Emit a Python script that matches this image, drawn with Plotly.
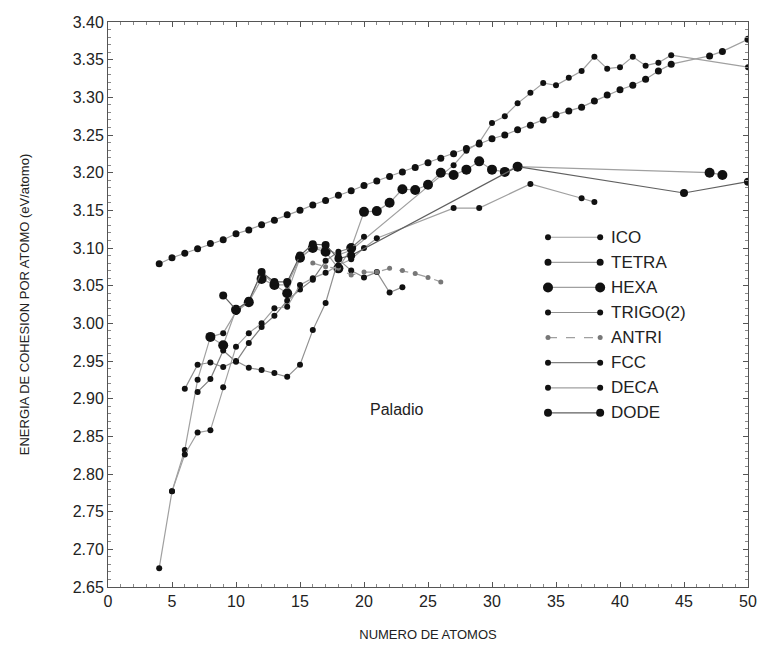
import plotly.graph_objects as go

# ---- data ----
ico_x = [5, 6, 7, 8, 9, 10, 11, 12, 13, 14, 15, 16, 17, 18, 19, 27, 28, 29, 30, 31, 32, 33, 34, 35, 36, 37, 38, 39, 40, 41, 42, 43, 44, 50]
ico_y = [2.777, 2.832, 2.925, 2.982, 2.987, 3.015, 3.028, 3.068, 3.051, 3.051, 3.087, 3.100, 3.100, 3.091, 3.097,
         3.210, 3.229, 3.240, 3.266, 3.275, 3.292, 3.306, 3.319, 3.316, 3.326, 3.335, 3.354, 3.338, 3.340, 3.354, 3.342, 3.346, 3.356, 3.340]

tetra_x = [4, 5, 6, 7, 8, 9, 10, 11, 12, 13, 14, 15, 16, 17, 18, 19, 20, 21, 22, 23, 24, 25, 26, 27, 28, 29, 30,
           31, 32, 33, 34, 35, 36, 37, 38, 39, 40, 41, 42, 43, 44, 47, 48, 50]
tetra_y = [3.079, 3.087, 3.093, 3.099, 3.106, 3.111, 3.119, 3.124, 3.131, 3.137, 3.144, 3.150, 3.157, 3.163, 3.170,
           3.176, 3.183, 3.189, 3.195, 3.201, 3.207, 3.213, 3.219, 3.225, 3.232, 3.238, 3.245, 3.250, 3.257, 3.263,
           3.270, 3.277, 3.282, 3.287, 3.295, 3.303, 3.310, 3.316, 3.324, 3.335, 3.344, 3.355, 3.361, 3.377]

hexa_x = [8, 9, 10, 11, 12, 13, 14, 15, 16, 17, 18, 19, 20, 21, 22, 23, 24, 25, 26, 27, 28, 29, 30, 31, 32, 47, 48]
hexa_y = [2.982, 2.971, 3.018, 3.028, 3.059, 3.051, 3.040, 3.087, 3.100, 3.095, 3.073, 3.100, 3.148, 3.149, 3.160,
          3.178, 3.177, 3.184, 3.200, 3.197, 3.204, 3.215, 3.204, 3.201, 3.208, 3.200, 3.197]

trigo_x = [6, 7, 8, 9, 10, 11, 12, 13, 14, 15, 16, 17, 18, 19, 20, 21, 22, 23]
trigo_y = [2.913, 2.945, 2.948, 2.942, 2.950, 2.941, 2.938, 2.934, 2.929, 2.945, 2.991, 3.027, 3.085, 3.070, 3.061,
           3.068, 3.041, 3.048]

antri_x = [16, 17, 18, 19, 20, 21, 22, 23, 24, 25, 26]
antri_y = [3.080, 3.075, 3.073, 3.064, 3.068, 3.068, 3.073, 3.070, 3.066, 3.061, 3.055]

fcc_x = [7, 8, 9, 10, 11, 12, 13, 14, 15, 16, 17, 18, 19, 20]
fcc_y = [2.909, 2.926, 2.964, 2.949, 2.974, 2.995, 3.010, 3.030, 3.045, 3.058, 3.083, 3.095, 3.100, 3.115]

deca_x = [4, 5, 6, 7, 8, 9, 10, 11, 12, 13, 14, 15, 16, 17, 18, 19, 20, 21, 27, 29, 33, 37, 38]
deca_y = [2.675, 2.777, 2.826, 2.855, 2.858, 2.915, 2.969, 2.987, 3.000, 3.020, 3.022, 3.051, 3.060, 3.067, 3.077,
          3.085, 3.100, 3.113, 3.153, 3.153, 3.185, 3.166, 3.161]

dode_x = [9, 10, 11, 12, 13, 14, 15, 16, 17, 18, 19, 32, 45, 50]
dode_y = [3.037, 3.018, 3.030, 3.068, 3.055, 3.055, 3.090, 3.105, 3.104, 3.086, 3.090, 3.208, 3.173, 3.188]

series_names = ["ICO", "TETRA", "HEXA", "TRIGO(2)", "ANTRI", "FCC", "DECA", "DODE"]
x_ticks = [0, 5, 10, 15, 20, 25, 30, 35, 40, 45, 50]
y_ticks = [2.65, 2.70, 2.75, 2.80, 2.85, 2.90, 2.95, 3.00, 3.05, 3.10, 3.15, 3.20, 3.25, 3.30, 3.35, 3.40]

FONT = "Liberation Sans, Arial, Helvetica, sans-serif"

styles = {
    "ICO":      dict(msize=6, mcolor="#111", lcolor="#a0a0a0", dash="solid"),
    "TETRA":    dict(msize=7, mcolor="#111", lcolor="#a0a0a0", dash="solid"),
    "HEXA":     dict(msize=10, mcolor="#111", lcolor="#a0a0a0", dash="solid"),
    "TRIGO(2)": dict(msize=6, mcolor="#111", lcolor="#909090", dash="solid"),
    "ANTRI":    dict(msize=5, mcolor="#777", lcolor="#a0a0a0", dash="dash"),
    "FCC":      dict(msize=6, mcolor="#111", lcolor="#808080", dash="solid"),
    "DECA":     dict(msize=6, mcolor="#111", lcolor="#a0a0a0", dash="solid"),
    "DODE":     dict(msize=8, mcolor="#111", lcolor="#606060", dash="solid"),
}

data = {
    "ICO": (ico_x, ico_y), "TETRA": (tetra_x, tetra_y), "HEXA": (hexa_x, hexa_y),
    "TRIGO(2)": (trigo_x, trigo_y), "ANTRI": (antri_x, antri_y), "FCC": (fcc_x, fcc_y),
    "DECA": (deca_x, deca_y), "DODE": (dode_x, dode_y),
}

fig = go.Figure()
for name in series_names:
    xs, ys = data[name]
    s = styles[name]
    fig.add_trace(go.Scatter(
        x=xs, y=ys, name=name, mode="lines+markers",
        line=dict(color=s["lcolor"], width=1.2, dash=s["dash"]),
        marker=dict(size=s["msize"], color=s["mcolor"]),
        showlegend=False,
    ))

# hand-made legend (marker - line - marker, label), in paper coordinates
shapes = []
annotations = []
lx0, lx1, ltext = 0.6875, 0.769, 0.783
ly0, ldy = 0.619, 0.0444
for i, name in enumerate(series_names):
    s = styles[name]
    yy = ly0 - i * ldy
    shapes.append(dict(type="line", xref="paper", yref="paper", x0=lx0, x1=lx1, y0=yy, y1=yy,
                       line=dict(color=s["lcolor"], width=1.2, dash=s["dash"])))
    r = s["msize"] / 2.0
    for cx in (lx0, lx1):
        shapes.append(dict(type="circle", xref="paper", yref="paper", xsizemode="pixel", ysizemode="pixel",
                           xanchor=cx, yanchor=yy, x0=-r, x1=r, y0=-r, y1=r,
                           fillcolor=s["mcolor"], line=dict(width=0)))
    annotations.append(dict(xref="paper", yref="paper", x=ltext, y=yy, text=name, showarrow=False,
                            xanchor="left", yanchor="middle", font=dict(family=FONT, size=17, color="#222")))

annotations.append(dict(x=22.5, y=2.885, text="Paladio", showarrow=False,
                        font=dict(family=FONT, size=16, color="#222")))

fig.update_layout(
    width=761, height=646,
    margin=dict(l=108, r=13, t=22, b=59),
    paper_bgcolor="white", plot_bgcolor="white",
    shapes=shapes, annotations=annotations,
    font=dict(family=FONT, color="#222"),
    xaxis=dict(range=[0, 50], tickvals=x_ticks, ticktext=[str(v) for v in x_ticks], automargin=False,
               showgrid=False, zeroline=False, showline=True, linecolor="#555", linewidth=1,
               mirror="allticks", ticks="inside", ticklen=5, tickcolor="#555",
               minor=dict(dtick=1, ticks="inside", ticklen=3, tickcolor="#888"),
               tickfont=dict(family=FONT, size=16, color="#222"),
               title=dict(text="NUMERO DE ATOMOS", font=dict(family=FONT, size=13, color="#222"), standoff=20)),
    yaxis=dict(range=[2.65, 3.40], tickvals=y_ticks, ticktext=["%.2f" % v for v in y_ticks], automargin=False,
               showgrid=False, zeroline=False, showline=True, linecolor="#555", linewidth=1,
               mirror="allticks", ticks="inside", ticklen=5, tickcolor="#555",
               minor=dict(dtick=0.01, ticks="inside", ticklen=3, tickcolor="#888"),
               tickfont=dict(family=FONT, size=16, color="#222"),
               title=dict(text="ENERGIA DE COHESION POR ATOMO (eV/atomo)",
                          font=dict(family=FONT, size=13, color="#222"), standoff=40)),
)

fig.write_html("out.html")
